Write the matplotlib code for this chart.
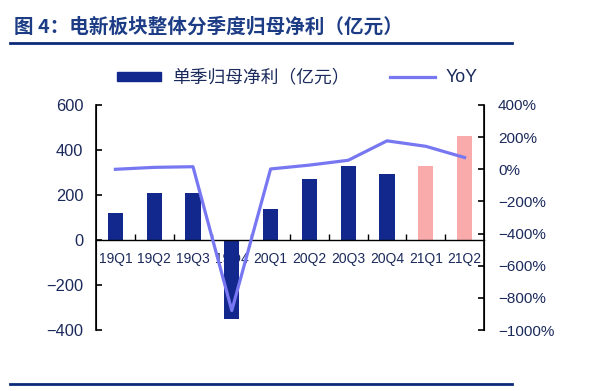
import matplotlib
matplotlib.use("Agg")
import matplotlib.pyplot as plt
import numpy as np
from matplotlib.lines import Line2D
from matplotlib.patches import Patch

plt.rcParams['font.family'] = ['Liberation Sans', 'Noto Sans CJK SC', 'DejaVu Sans']

quarters = ["19Q1", "19Q2", "19Q3", "19Q4", "20Q1", "20Q2", "20Q3", "20Q4", "21Q1", "21Q2"]
profit = [122, 210, 210, -353, 137, 272, 331, 294, 331, 463]
yoy = [0, 12, 16, -879, 2, 26, 56, 177, 143, 73]
forecast = [False]*8 + [True]*2

navy = "#12288C"
pink = "#F9ABAC"
lilac = "#7777F2"
txt = "#1B2A5C"

fig = plt.figure(figsize=(5.99, 3.91), dpi=100)
W, H = 599, 391
ax = fig.add_axes([96/W, 1-330/H, (484-96)/W, (330-105)/H])
ax2 = ax.twinx()

x = np.arange(len(quarters))
colors = [pink if f else navy for f in forecast]
ax.bar(x, profit, width=0.39, color=colors, zorder=2)
ax.set_xlim(-0.5, len(quarters)-0.5)
ax.set_ylim(-400, 600)
ax.set_yticks([-400, -200, 0, 200, 400, 600])
ax.set_yticklabels(["\u2212400", "\u2212200", "0", "200", "400", "600"])

ax2.plot(x, yoy, color=lilac, lw=2.3, zorder=3)
ax2.set_ylim(-1000, 400)
rt = [-1000, -800, -600, -400, -200, 0, 200, 400]
ax2.set_yticks(rt)
ax2.set_yticklabels([(f"\u2212{abs(v)}%" if v < 0 else f"{v}%") for v in rt])

for a in (ax, ax2):
    a.spines['top'].set_visible(False)
    a.patch.set_visible(False)
ax.spines['bottom'].set_position(('data', 0))
ax2.spines['bottom'].set_visible(False)
ax.spines['left'].set_linewidth(1.2)
ax2.spines['right'].set_linewidth(1.2)
ax.spines['bottom'].set_linewidth(1.0)

ax.tick_params(axis='y', direction='in', length=4, width=1.2, labelsize=11.8, colors='black', labelcolor=txt, pad=9)
ax2.tick_params(axis='y', direction='in', length=4, width=1.2, labelsize=11, colors='black', labelcolor=txt, pad=10)
ax.set_xticks(x)
ax.set_xticklabels(quarters)
ax.tick_params(axis='x', which='major', length=0, labelsize=10, labelcolor=txt, pad=9)
ax.set_xticks(np.arange(0.5, len(quarters)-0.5, 1), minor=True)
ax.tick_params(axis='x', which='minor', direction='in', length=4, width=1)
ax.set_axisbelow(True)

handles = [Patch(color=navy), Line2D([0], [0], color=lilac, lw=2.3)]
fig.legend(handles, ["单季归母净利（亿元）", "YoY"], loc='center', bbox_to_anchor=(297/W, 1-78/H),
           ncol=2, frameon=False, labelcolor=txt, handlelength=2.5, handleheight=0.4,
           columnspacing=2.3, handletextpad=0.6,
           prop={'family': ['Liberation Sans', 'Noto Sans CJK SC'], 'size': 12.8})

fig.text(14/W, 1-27/H, "图 4：电新板块整体分季度归母净利（亿元）", fontsize=14.1, fontweight='bold',
         color="#1C3C85", va='center', ha='left', family=['Noto Sans CJK SC'])
fig.add_artist(Line2D([10/W, 512/W], [1-43/H, 1-43/H], color="#0B2B7A", lw=2))
fig.add_artist(Line2D([10/W, 512/W], [1-384/H, 1-384/H], color="#0B2B7A", lw=2))

fig.savefig("out.png", dpi=100)
